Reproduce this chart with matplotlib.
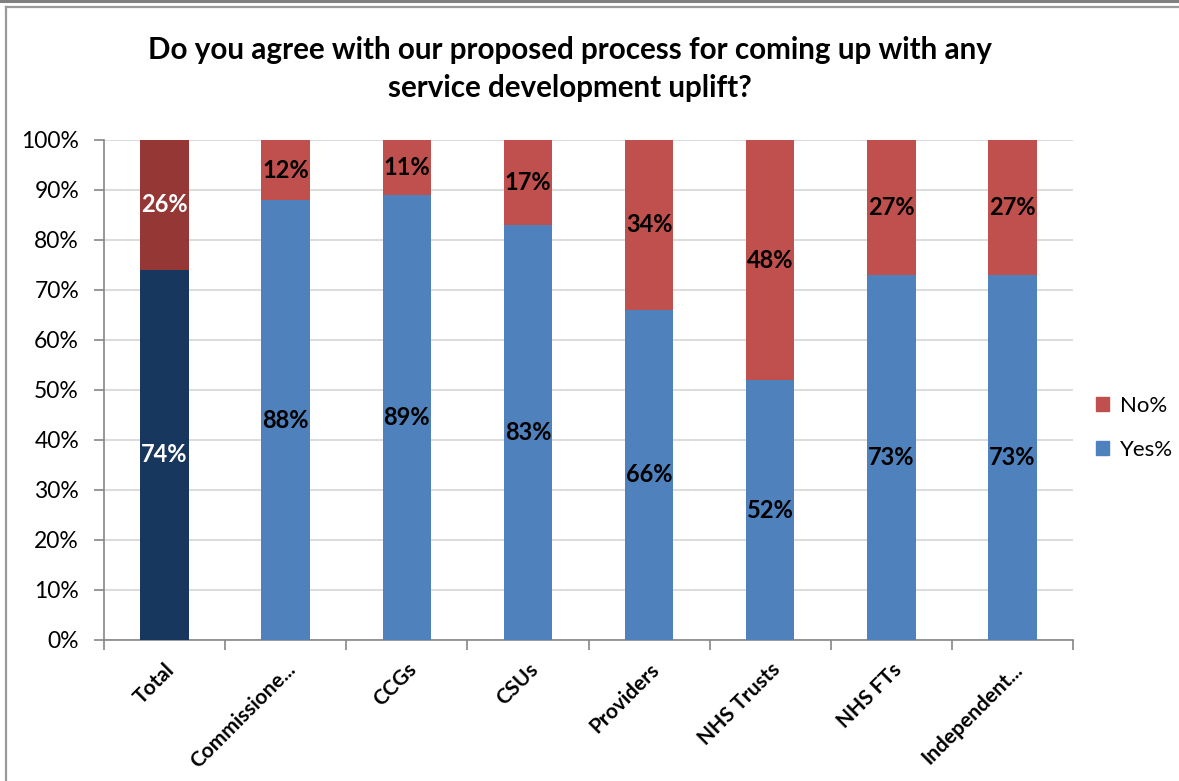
import numpy as np
import matplotlib.pyplot as plt
from matplotlib.patches import Patch
from matplotlib.lines import Line2D

plt.rcParams['font.family'] = ['Lato', 'DejaVu Sans']

categories = ['Total', 'Commissione...', 'CCGs', 'CSUs', 'Providers',
              'NHS Trusts', 'NHS FTs', 'Independent...']
yes_pct = [74, 88, 89, 83, 66, 52, 73, 73]
no_pct = [26, 12, 11, 17, 34, 48, 27, 27]
y_ticks = [0, 10, 20, 30, 40, 50, 60, 70, 80, 90, 100]

yes_col = '#4F81BD'
no_col = '#C0504D'
yes_total = '#17375E'
no_total = '#953735'

W, H = 1179, 781
fig = plt.figure(figsize=(W / 100, H / 100), dpi=100)

# chart frame lines
fig.add_artist(Line2D([0, 1], [1 - 1 / H, 1 - 1 / H], transform=fig.transFigure,
                      color='#808080', lw=2.2))
fig.add_artist(Line2D([5.5 / W, 5.5 / W], [0, 1 - 7 / H], transform=fig.transFigure,
                      color='#9a9a9a', lw=1.6))
fig.add_artist(Line2D([5.5 / W, 1], [1 - 7 / H, 1 - 7 / H], transform=fig.transFigure,
                      color='#9a9a9a', lw=1.6))

left, right, bottom, top = 104, 1073, 640, 140
ax = fig.add_axes([left / W, 1 - bottom / H, (right - left) / W, (bottom - top) / H])

x = np.arange(len(categories))
yes_colors = [yes_total] + [yes_col] * (len(categories) - 1)
no_colors = [no_total] + [no_col] * (len(categories) - 1)
ax.bar(x, yes_pct, width=0.4, color=yes_colors, zorder=3)
ax.bar(x, no_pct, width=0.4, bottom=yes_pct, color=no_colors, zorder=3)

for i in range(len(categories)):
    tc = 'white' if i == 0 else 'black'
    ax.text(x[i], yes_pct[i] / 2, f'{yes_pct[i]}%', ha='center', va='center',
            fontsize=17, fontweight='bold', color=tc, zorder=4)
    ax.text(x[i], yes_pct[i] + no_pct[i] / 2, f'{no_pct[i]}%', ha='center', va='center',
            fontsize=17, fontweight='bold', color=tc, zorder=4)

ax.set_xlim(-0.5, len(categories) - 0.5)
ax.set_ylim(0, 100)
ax.set_yticks(y_ticks)
ax.set_yticklabels([f'{t}%' for t in y_ticks], fontsize=16.5)
ax.yaxis.grid(True, color='#D9D9D9', lw=1.3, zorder=0)
ax.set_axisbelow(True)

ax.set_xticks(np.arange(len(categories) + 1) - 0.5)
ax.set_xticklabels([])
ax.set_xticks(x, minor=True)
ax.set_xticklabels(categories, minor=True, rotation=45, ha='right', va='top',
                   rotation_mode='anchor', fontsize=15, fontweight='bold')
ax.tick_params(axis='x', which='minor', length=0, pad=14)
ax.tick_params(axis='x', which='major', length=7, color='#868686', width=1.2)
ax.tick_params(axis='y', length=7, color='#868686', width=1.2, pad=11)

for s in ['top', 'right']:
    ax.spines[s].set_visible(False)
for s in ['left', 'bottom']:
    ax.spines[s].set_color('#868686')
    ax.spines[s].set_linewidth(1.2)

fig.text(0.483, 1 - 50 / H, 'Do you agree with our proposed process for coming up with any',
         ha='center', va='center', fontsize=21.3, fontweight='bold')
fig.text(0.483, 1 - 88 / H, 'service development uplift?',
         ha='center', va='center', fontsize=21.3, fontweight='bold')

handles = [Patch(color=no_col, label='No%'), Patch(color=yes_col, label='Yes%')]
fig.legend(handles=handles, loc='center left', bbox_to_anchor=(1076 / W, 1 - 428 / H),
           frameon=False, fontsize=16, handlelength=0.6, handleheight=0.6,
           handletextpad=0.5, labelspacing=1.1)

fig.savefig('out.png', dpi=100, facecolor='white')
